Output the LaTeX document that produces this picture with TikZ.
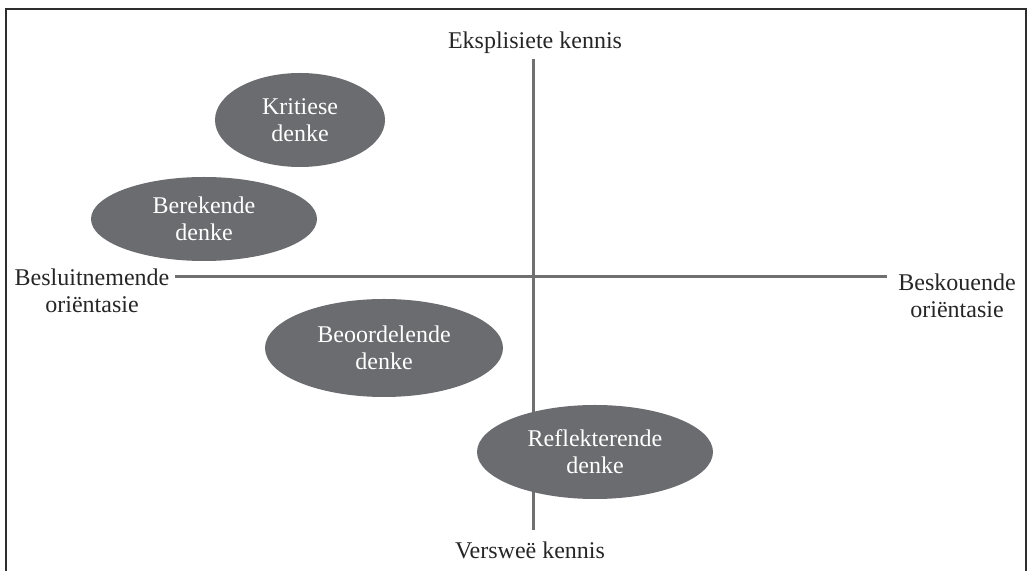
\documentclass[tikz,border=0pt]{standalone}
\usepackage{fontspec}
\setmainfont{Liberation Serif}
\usetikzlibrary{shapes.geometric}
\definecolor{blobgray}{HTML}{6B6C70}
\definecolor{axisgray}{HTML}{707070}
\definecolor{framegray}{HTML}{2E2E2E}
\begin{document}
\begin{tikzpicture}[x=0.5pt,y=-0.5pt,
  blob/.style={ellipse, fill=blobgray, draw=none, inner sep=0pt, text=white,
    align=center, font=\fontsize{12}{13.5}\selectfont},
  lbl/.style={align=center, text=black!85, inner sep=0pt, font=\fontsize{12}{13.5}\selectfont},
  axisline/.style={draw=axisgray, line width=1.5pt},
  frameline/.style={draw=framegray, line width=1.4pt}]
\useasboundingbox (0,0) rectangle (1030,571);
% frame
\coordinate (fbl) at (6,575);
\coordinate (ftl) at (6,9);
\coordinate (ftr) at (1026,9);
\coordinate (fbr) at (1026,575);
\draw[frameline] (fbl) -- (ftl) -- (ftr) -- (fbr);
% labels
\node[lbl] (top) at (535,43) {Eksplisiete kennis};
\node[lbl] (bottom) at (530,550) {Versweë kennis};
\node[lbl] (left) at (92,291) {Besluitnemende\\oriëntasie};
\node[lbl] (right) at (957,296) {Beskouende\\oriëntasie};
% axes
\coordinate (vt) at (533,59);
\coordinate (vb) at (533,530);
\coordinate (hl) at (175,277);
\coordinate (hr) at (887,277);
\draw[axisline] (vt) -- (vb);
\draw[axisline] (hl) -- (hr);
% ellipses (sizes in pt = half of the pixel sizes)
\node[blob, minimum width=85pt, minimum height=47pt] (krit) at (300,120) {Kritiese\\denke};
\node[blob, minimum width=113pt, minimum height=42pt] (bere) at (204,219) {Berekende\\denke};
\node[blob, minimum width=119pt, minimum height=49pt] (beoo) at (384,348) {Beoordelende\\denke};
\node[blob, minimum width=118pt, minimum height=47pt] (refl) at (595,452) {Reflekterende\\denke};
\end{tikzpicture}
\end{document}
